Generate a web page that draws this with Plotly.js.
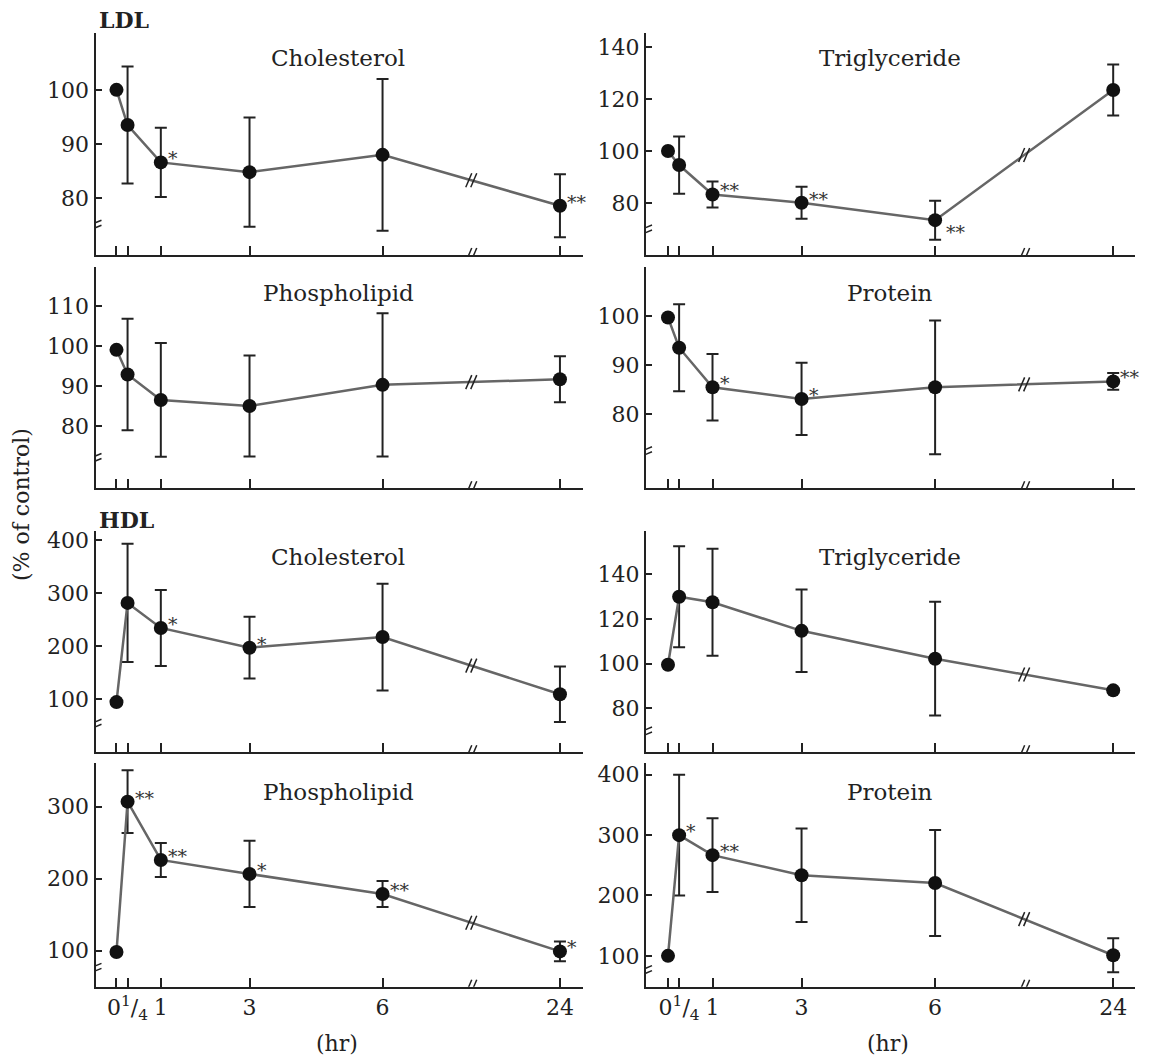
<!DOCTYPE html>
<html><head><meta charset="utf-8">
<script src="https://cdn.plot.ly/plotly-3.0.1.min.js"></script>
<style>html,body{margin:0;padding:0;background:#fff}</style>
</head><body><div id="chart" style="width:1149px;height:1057px"></div>
<script>
// ---- data ----
const timeHr = [0, 0.25, 1, 3, 6, 24];
// tick labels; "0" and "1/4" sit so close that they are printed as one run of text
const labeledHr = [0.25, 1, 3, 6, 24];
const timeTickText = ["0<sup>1</sup>/<sub>4</sub>", "1", "3", "6", "24"];
const unlabeledHr = [0];

const ldlCholMean = [100, 93.5, 86.6, 84.8, 88.0, 78.6];
const ldlCholSD   = [0, 10.8, 6.4, 10.1, 14.0, 5.8];
const ldlCholSig  = ["", "", "*", "", "", "**"];

const ldlTgMean = [100, 94.6, 83.3, 80.1, 73.4, 123.5];
const ldlTgSD   = [0, 11.0, 5.0, 6.2, 7.5, 9.8];
const ldlTgSig  = ["", "", "**", "**", "**", ""];

const ldlPlMean = [99.1, 92.9, 86.5, 85.0, 90.3, 91.7];
const ldlPlSD   = [0, 14.0, 14.3, 12.7, 18.0, 5.8];
const ldlPlSig  = ["", "", "", "", "", ""];

const ldlProtMean = [99.8, 93.6, 85.5, 83.1, 85.5, 86.7];
const ldlProtSD   = [0, 8.9, 6.8, 7.4, 13.7, 1.7];
const ldlProtSig  = ["", "", "*", "*", "", "**"];

const hdlCholMean = [94, 281.6, 234.2, 196.9, 217, 108.8];
const hdlCholSD   = [0, 112, 72, 58.5, 101, 52.5];
const hdlCholSig  = ["", "", "*", "*", "", ""];

const hdlTgMean = [99.5, 130, 127.5, 114.7, 102.2, 88];
const hdlTgSD   = [0, 22.7, 24, 18.5, 25.5, 1];
const hdlTgSig  = ["", "", "", "", "", ""];

const hdlPlMean = [98.2, 307, 226, 206.6, 178.8, 99];
const hdlPlSD   = [0, 43.5, 23.6, 46, 18, 13.8];
const hdlPlSig  = ["", "**", "**", "*", "**", "*"];

const hdlProtMean = [100, 300, 266.8, 233.5, 220.7, 101];
const hdlProtSD   = [0, 100, 61, 77.6, 88, 28];
const hdlProtSig  = ["", "*", "**", "", "", ""];

// broken time axis: hours up to 6 are linear, 24 h is drawn after the break
const BREAK_POS = 8;
function axisPos(h) { return h <= 6 ? h : 10; }

const panels = [
  {title:"Cholesterol",  mean:ldlCholMean, sd:ldlCholSD, sig:ldlCholSig, range:[69.5,110.5], ticks:[80,90,100],         yBreak:75,   row:0, col:0},
  {title:"Triglyceride", mean:ldlTgMean,   sd:ldlTgSD,   sig:ldlTgSig,   range:[60,145.4],   ticks:[80,100,120,140],    yBreak:69.6, row:0, col:1, sigBelow:[4]},
  {title:"Phospholipid", mean:ldlPlMean,   sd:ldlPlSD,   sig:ldlPlSig,   range:[64.3,120],   ticks:[80,90,100,110],     yBreak:71.8, row:1, col:0},
  {title:"Protein",      mean:ldlProtMean, sd:ldlProtSD, sig:ldlProtSig, range:[64.8,110.2], ticks:[80,90,100],         yBreak:72.3, row:1, col:1},
  {title:"Cholesterol",  mean:hdlCholMean, sd:hdlCholSD, sig:hdlCholSig, range:[-1,417.6],   ticks:[100,200,300,400],   yBreak:52,   row:2, col:0},
  {title:"Triglyceride", mean:hdlTgMean,   sd:hdlTgSD,   sig:hdlTgSig,   range:[60.2,159.5], ticks:[80,100,120,140],    yBreak:69.3, row:2, col:1},
  {title:"Phospholipid", mean:hdlPlMean,   sd:hdlPlSD,   sig:hdlPlSig,   range:[50,360.7],   ticks:[100,200,300],       yBreak:75.5, row:3, col:0},
  {title:"Protein",      mean:hdlProtMean, sd:hdlProtSD, sig:hdlProtSig, range:[48.9,419.5], ticks:[100,200,300,400],   yBreak:75.6, row:3, col:1}
];

// ---- layout geometry ----
const W = 1149, H = 1057;
const colPx = [[95.5, 583], [646, 1135]];
const colRange = [[-0.473, 10.52], [-0.494, 10.49]];
const rowPx = [[33, 255], [266.7, 488.3], [531, 752.3], [763, 986.7]];
const titleY = [58, 293, 557, 792];
const titleX = [338, 890];

const FONT = "DejaVu Serif";
const INK = "#222";
const traces = [];
const shapes = [];
const annotations = [];
const layout = {
  width: W, height: H, margin: {l:0, r:0, t:0, b:0},
  paper_bgcolor: "#fff", plot_bgcolor: "rgba(0,0,0,0)",
  showlegend: false, font: {family: FONT, color: INK}
};

function breakLinesX(xref, yref, xa, ya) {
  [-2.5, 2.5].forEach(o => shapes.push({type:"line", xref, yref, xsizemode:"pixel", ysizemode:"pixel",
    xanchor: xa, yanchor: ya, x0: o - 3, x1: o + 3, y0: -7, y1: 7, line:{color:INK, width:1.5}}));
}
function breakLinesY(xref, yref, xa, ya) {
  [-2.5, 2.5].forEach(o => shapes.push({type:"line", xref, yref, xsizemode:"pixel", ysizemode:"pixel",
    xanchor: xa, yanchor: ya, x0: -6, x1: 6, y0: o - 2.5, y1: o + 2.5, line:{color:INK, width:1.5}}));
}

panels.forEach((p, i) => {
  const k = i + 1, s = k === 1 ? "" : String(k);
  const xr = "x" + s, yr = "y" + s;
  const xs = timeHr.map(axisPos);
  layout["xaxis" + s] = {
    domain: [colPx[p.col][0] / W, colPx[p.col][1] / W], range: colRange[p.col], anchor: yr,
    showline: true, linecolor: INK, linewidth: 2, showgrid: false, zeroline: false,
    ticks: "inside", ticklen: 9, tickwidth: 2, tickcolor: INK, tickangle: 0,
    tickmode: "array", tickvals: labeledHr.map(axisPos), ticktext: timeTickText, showticklabels: p.row === 3,
    minor: {tickmode: "array", tickvals: unlabeledHr.map(axisPos), ticks: "inside", ticklen: 9, tickwidth: 2,
            tickcolor: INK, showgrid: false},
    tickfont: {family: FONT, size: 22, color: INK}, fixedrange: true
  };
  layout["yaxis" + s] = {
    domain: [1 - rowPx[p.row][1] / H, 1 - rowPx[p.row][0] / H], range: p.range, anchor: xr,
    showline: true, linecolor: INK, linewidth: 2, showgrid: false, zeroline: false,
    ticks: "inside", ticklen: 6, tickwidth: 2, tickcolor: INK,
    tickmode: "array", tickvals: p.ticks, ticktext: p.ticks.map(String),
    tickfont: {family: FONT, size: 22, color: INK}, fixedrange: true
  };
  traces.push({
    x: xs, y: p.mean, xaxis: xr, yaxis: yr, type: "scatter", mode: "lines+markers",
    line: {color: "#666", width: 2.5},
    marker: {color: "#111", size: 14},
    error_y: {type: "data", array: p.sd, visible: true, color: INK, thickness: 2, width: 6},
    hoverinfo: "x+y"
  });
  // panel title
  annotations.push({xref: "paper", yref: "paper", x: titleX[p.col] / W, y: 1 - titleY[p.row] / H,
    text: p.title, showarrow: false, xanchor: "center", yanchor: "middle",
    font: {family: FONT, size: 23, color: INK}});
  // significance marks
  p.sig.forEach((t, j) => {
    if (!t) return;
    const below = (p.sigBelow || []).includes(j);
    annotations.push({xref: xr, yref: yr, x: xs[j], y: p.mean[j], text: t, showarrow: false,
      xanchor: "left", yanchor: "middle", xshift: below ? 9 : 5, yshift: below ? -12 : 4,
      font: {family: FONT, size: 19, color: "#333"}});
  });
  // axis breaks
  breakLinesX(xr, yr, BREAK_POS, p.range[0]);
  const yMid = p.mean[4] + (p.mean[5] - p.mean[4]) * (BREAK_POS - xs[4]) / (xs[5] - xs[4]);
  breakLinesX(xr, yr, BREAK_POS, yMid);
  breakLinesY(xr, yr, colRange[p.col][0], p.yBreak);
});

annotations.push({xref:"paper", yref:"paper", x: 97/W, y: 1 - 20/H, text:"<b>LDL</b>", showarrow:false,
  xanchor:"left", yanchor:"middle", font:{family:FONT, size:22, color:INK}});
annotations.push({xref:"paper", yref:"paper", x: 97/W, y: 1 - 520/H, text:"<b>HDL</b>", showarrow:false,
  xanchor:"left", yanchor:"middle", font:{family:FONT, size:22, color:INK}});
annotations.push({xref:"paper", yref:"paper", x: 22/W, y: 1 - 505/H, text:"(% of control)", showarrow:false,
  textangle:-90, xanchor:"center", yanchor:"middle", font:{family:FONT, size:22, color:INK}});
[337, 888].forEach(px => annotations.push({xref:"paper", yref:"paper", x: px/W, y: 1 - 1043/H, text:"(hr)",
  showarrow:false, xanchor:"center", yanchor:"middle", font:{family:FONT, size:22, color:INK}}));

layout.shapes = shapes;
layout.annotations = annotations;
Plotly.newPlot("chart", traces, layout, {displayModeBar: false, staticPlot: true});
</script>
</body></html>
